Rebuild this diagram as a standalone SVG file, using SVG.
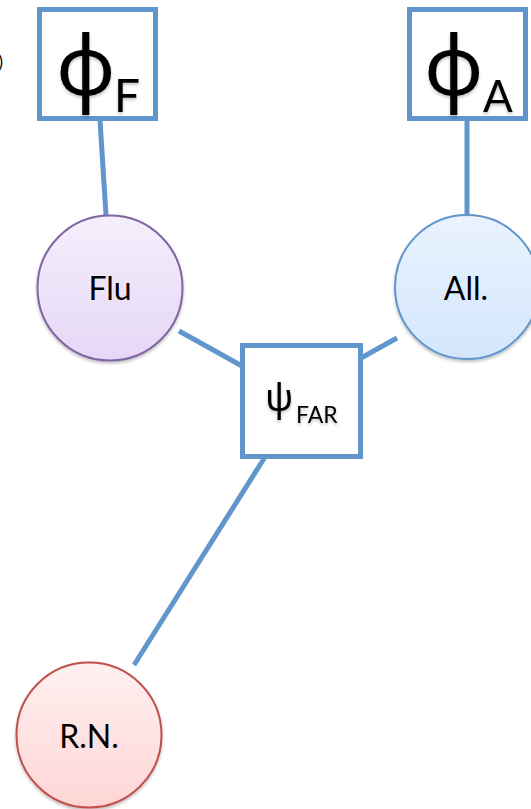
<svg xmlns="http://www.w3.org/2000/svg" width="531" height="809" viewBox="0 0 531 809">
  <style>
    .edge { stroke: #6196cc; stroke-width: 5; fill: none; }
    .factor { fill: #ffffff; stroke: #6196cc; stroke-width: 5; }
    .var { stroke-width: 2; }
    .label { font-family: Lato, "Open Sans", sans-serif; fill: #000000; }
    .greek { font-family: "Noto Sans", "DejaVu Sans", sans-serif; fill: #000000; }
  </style>
  <defs>
    <linearGradient id="gFlu" x1="0" y1="0" x2="0" y2="1">
      <stop offset="0" stop-color="#f4effc"/>
      <stop offset="1" stop-color="#e5d7f6"/>
    </linearGradient>
    <linearGradient id="gAll" x1="0" y1="0" x2="0" y2="1">
      <stop offset="0" stop-color="#eaf3fe"/>
      <stop offset="1" stop-color="#d3e6fc"/>
    </linearGradient>
    <linearGradient id="gRN" x1="0" y1="0" x2="0" y2="1">
      <stop offset="0" stop-color="#fff0f0"/>
      <stop offset="1" stop-color="#ffd5d5"/>
    </linearGradient>
    <filter id="soft" x="-20%" y="-20%" width="140%" height="140%">
      <feDropShadow dx="0" dy="2" stdDeviation="1.5" flood-color="#000000" flood-opacity="0.25"/>
    </filter>
  </defs>

  <!-- clipped glyph at the left edge -->
  <text class="label" x="3" y="68" font-size="17" text-anchor="end">)</text>

  <!-- connectors -->
  <g id="connectors">
    <line class="edge" x1="100" y1="120" x2="106" y2="215"/>
    <line class="edge" x1="467" y1="120" x2="467" y2="215"/>
    <line class="edge" x1="179" y1="331" x2="242" y2="366"/>
    <line class="edge" x1="397" y1="338" x2="361" y2="358"/>
    <line class="edge" x1="265" y1="457" x2="134" y2="665"/>
  </g>

  <!-- factor phi_F -->
  <g id="phiF">
    <rect class="factor" x="39.5" y="9.5" width="116" height="109"/>
    <text class="greek" x="56" y="95" font-size="82" filter="url(#soft)">φ</text>
    <text class="label" x="114" y="112" font-size="46" filter="url(#soft)">F</text>
  </g>

  <!-- factor phi_A -->
  <g id="phiA">
    <rect class="factor" x="409.5" y="9.5" width="116" height="109"/>
    <text class="greek" x="424" y="95" font-size="82" filter="url(#soft)">φ</text>
    <text class="label" x="483" y="112" font-size="44" filter="url(#soft)">A</text>
  </g>

  <!-- variable Flu -->
  <g id="flu">
    <circle class="var" cx="110" cy="288" r="72.5" fill="url(#gFlu)" stroke="#8064a2" filter="url(#soft)"/>
    <text class="label" x="110" y="300" font-size="32" text-anchor="middle">Flu</text>
  </g>

  <!-- variable All. -->
  <g id="all">
    <circle class="var" cx="467" cy="287" r="72" fill="url(#gAll)" stroke="#5f95cb" filter="url(#soft)"/>
    <text class="label" x="466" y="300" font-size="32" text-anchor="middle">All.</text>
  </g>

  <!-- factor psi_FAR -->
  <g id="psiFAR">
    <rect class="factor" x="242.5" y="345.5" width="118" height="111"/>
    <text class="greek" x="265" y="411" font-size="38" filter="url(#soft)">ψ</text>
    <text class="label" x="296" y="423" font-size="23" filter="url(#soft)">FAR</text>
  </g>

  <!-- variable R.N. -->
  <g id="rn">
    <circle class="var" cx="89" cy="735" r="72.5" fill="url(#gRN)" stroke="#c0504d" filter="url(#soft)"/>
    <text class="label" x="89" y="748" font-size="32" text-anchor="middle">R.N.</text>
  </g>
</svg>
